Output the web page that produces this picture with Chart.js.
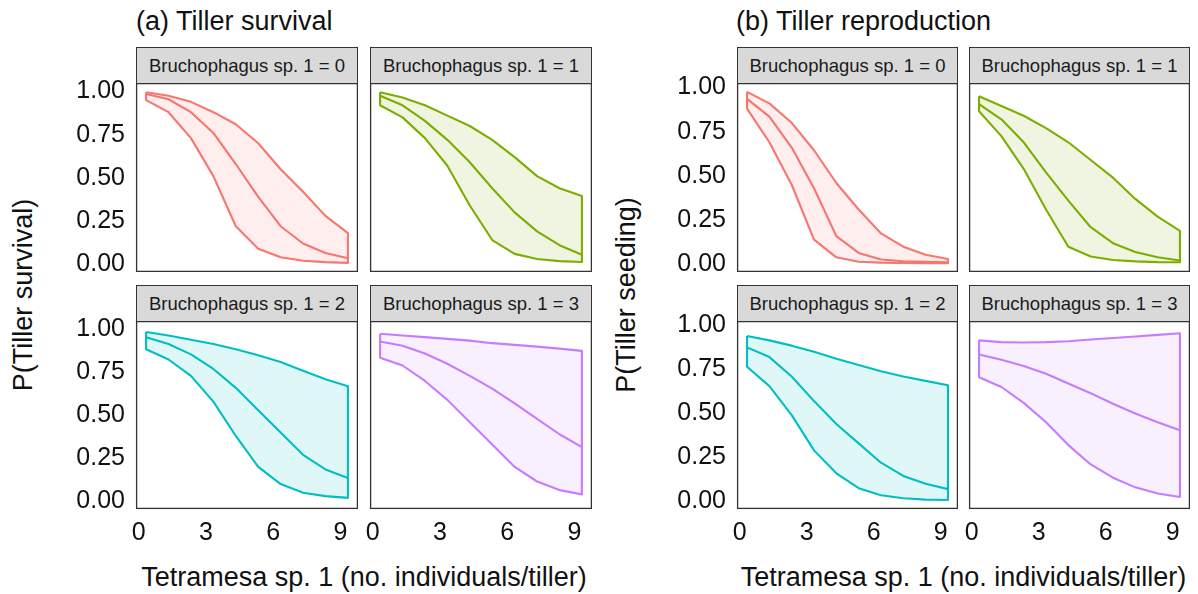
<!DOCTYPE html>
<html>
<head>
<meta charset="utf-8">
<script src="https://cdn.jsdelivr.net/npm/chart.js@4/dist/chart.umd.min.js"></script>
<style>
  html, body { margin: 0; padding: 0; background: #fff; }
  body { width: 1198px; height: 594px; position: relative; overflow: hidden;
         font-family: "Liberation Sans", Arial, Helvetica, sans-serif; color: #111; }
  canvas { position: absolute; }
  .strip { position: absolute; z-index: 2; box-sizing: border-box; background: #d9d9d9; border: 1px solid #333;
           display: flex; align-items: center; justify-content: center; font-size: 18.5px; color: #1a1a1a;
           white-space: nowrap; }
  .title { position: absolute; font-size: 27px; white-space: nowrap; line-height: 1; }
  .ytitle { position: absolute; font-size: 27px; white-space: nowrap; line-height: 1;
            transform: translate(-50%, -50%) rotate(-90deg); }
  .xtitle { position: absolute; font-size: 27px; white-space: nowrap; line-height: 1;
            transform: translate(-50%, -50%); }
</style>
</head>
<body>
<script>
// Tetramesa sp. 1 load along the x axis (individuals per tiller)
const X_VALUES = [0.33, 1.33, 2.33, 3.33, 4.33, 5.33, 6.33, 7.33, 8.33, 9.33];
const X_TICKS = [0, 3, 6, 9];
const Y_TICKS = [0, 0.25, 0.5, 0.75, 1];
const Y_TICK_LABELS = ['0.00', '0.25', '0.50', '0.75', '1.00'];

const FACET_LABELS = ['Bruchophagus sp. 1 = 0', 'Bruchophagus sp. 1 = 1',
                      'Bruchophagus sp. 1 = 2', 'Bruchophagus sp. 1 = 3'];
const FACET_COLORS = ['#F8766D', '#7CAE00', '#00BFC4', '#C77CFF'];

// (a) P(Tiller survival): upper bound, fitted mean, lower bound per Bruchophagus level
const survival0Upper = [0.995, 0.975, 0.94, 0.88, 0.81, 0.70, 0.55, 0.42, 0.28, 0.18];
const survival0Mean  = [0.985, 0.955, 0.88, 0.76, 0.58, 0.39, 0.22, 0.12, 0.065, 0.035];
const survival0Lower = [0.95, 0.88, 0.73, 0.51, 0.22, 0.09, 0.04, 0.02, 0.012, 0.008];

const survival1Upper = [0.995, 0.965, 0.92, 0.86, 0.80, 0.72, 0.62, 0.51, 0.44, 0.395];
const survival1Mean  = [0.975, 0.92, 0.83, 0.72, 0.59, 0.44, 0.30, 0.19, 0.11, 0.055];
const survival1Lower = [0.92, 0.85, 0.73, 0.57, 0.34, 0.14, 0.06, 0.03, 0.018, 0.013];

const survival2Upper = [0.985, 0.965, 0.94, 0.915, 0.885, 0.85, 0.81, 0.76, 0.71, 0.67];
const survival2Mean  = [0.955, 0.915, 0.855, 0.77, 0.66, 0.53, 0.40, 0.27, 0.185, 0.135];
const survival2Lower = [0.885, 0.825, 0.73, 0.58, 0.38, 0.20, 0.10, 0.05, 0.03, 0.02];

const survival3Upper = [0.975, 0.965, 0.955, 0.945, 0.935, 0.92, 0.91, 0.90, 0.888, 0.875];
const survival3Mean  = [0.93, 0.905, 0.86, 0.80, 0.73, 0.655, 0.57, 0.48, 0.39, 0.315];
const survival3Lower = [0.835, 0.79, 0.70, 0.59, 0.46, 0.33, 0.20, 0.115, 0.065, 0.04];

// (b) P(Tiller seeding)
const seeding0Upper = [0.975, 0.91, 0.80, 0.645, 0.46, 0.31, 0.175, 0.10, 0.055, 0.03];
const seeding0Mean  = [0.935, 0.835, 0.66, 0.43, 0.16, 0.065, 0.028, 0.018, 0.014, 0.012];
const seeding0Lower = [0.88, 0.69, 0.45, 0.14, 0.04, 0.015, 0.01, 0.008, 0.007, 0.007];

const seeding1Upper = [0.95, 0.895, 0.84, 0.77, 0.69, 0.59, 0.49, 0.37, 0.27, 0.19];
const seeding1Mean  = [0.905, 0.82, 0.69, 0.52, 0.36, 0.21, 0.12, 0.07, 0.04, 0.022];
const seeding1Lower = [0.865, 0.725, 0.54, 0.31, 0.10, 0.045, 0.025, 0.017, 0.013, 0.012];

const seeding2Upper = [0.94, 0.915, 0.885, 0.85, 0.81, 0.775, 0.74, 0.71, 0.685, 0.66];
const seeding2Mean  = [0.875, 0.82, 0.71, 0.57, 0.44, 0.33, 0.22, 0.145, 0.10, 0.07];
const seeding2Lower = [0.765, 0.655, 0.49, 0.29, 0.16, 0.075, 0.035, 0.018, 0.01, 0.008];

const seeding3Upper = [0.915, 0.905, 0.903, 0.905, 0.91, 0.92, 0.928, 0.937, 0.946, 0.955];
const seeding3Mean  = [0.835, 0.805, 0.77, 0.725, 0.67, 0.615, 0.555, 0.50, 0.45, 0.405];
const seeding3Lower = [0.705, 0.65, 0.56, 0.45, 0.32, 0.21, 0.135, 0.08, 0.045, 0.025];

const SURVIVAL = [
  [survival0Upper, survival0Mean, survival0Lower],
  [survival1Upper, survival1Mean, survival1Lower],
  [survival2Upper, survival2Mean, survival2Lower],
  [survival3Upper, survival3Mean, survival3Lower]
];
const SEEDING = [
  [seeding0Upper, seeding0Mean, seeding0Lower],
  [seeding1Upper, seeding1Mean, seeding1Lower],
  [seeding2Upper, seeding2Mean, seeding2Lower],
  [seeding3Upper, seeding3Mean, seeding3Lower]
];

// ---- layout of the two faceted figures ----
const FONT = '"Liberation Sans", Arial, Helvetica, sans-serif';
const TEXT_COLOR = '#111';
const TICK_SIZE = 25;
const Y_AXIS_W = 80;      // room for y tick labels on the left column
const SPACER_W = 12;      // empty y axis on the right column keeps the "0" label inside the canvas
const X_AXIS_H = 46;      // room for x tick labels on the bottom row
const TOP_M = 14;         // canvas headroom so the top tick label is not cut
const ROWS = [ { strip: 47, top: 83, h: 189 }, { strip: 285, top: 321, h: 188 } ];
const STRIP_H = 37;

const FIGURES = [
  { title: '(a) Tiller survival', ytitle: 'P(Tiller survival)', cols: [136, 370], w: 222,
    titleX: 136, ytitleX: 23, ymin: -0.045, ymax: 1.049, series: SURVIVAL },
  { title: '(b) Tiller reproduction', ytitle: 'P(Tiller seeding)', cols: [737, 969], w: 221,
    titleX: 736, ytitleX: 626, ymin: -0.043, ymax: 1.025, series: SEEDING }
];
const YTITLE_Y = 295;
const XMIN = -0.12, XMAX = 9.78;
const XTITLE = 'Tetramesa sp. 1 (no. individuals/tiller)';

function withAlpha(hex, a) {
  const n = parseInt(hex.slice(1), 16);
  return `rgba(${(n >> 16) & 255}, ${(n >> 8) & 255}, ${n & 255}, ${a})`;
}

// Scales keep a fixed size and do not push the plotting area in for label overhang
function fixScale(size, key) {
  return s => {
    s[key] = size;
    s.paddingTop = s.paddingBottom = s.paddingLeft = s.paddingRight = 0;
  };
}

// Panel border drawn round the plotting area
const panelFrame = {
  id: 'panelFrame',
  afterDraw(chart) {
    const { ctx, chartArea: a } = chart;
    ctx.save();
    ctx.strokeStyle = '#333';
    ctx.lineWidth = 1.3;
    ctx.strokeRect(a.left + 0.6, a.top + 0.6, a.right - a.left - 1.2, a.bottom - a.top - 1.2);
    ctx.restore();
  }
};

function addEl(cls, text, style) {
  const d = document.createElement('div');
  d.className = cls;
  d.textContent = text;
  Object.assign(d.style, style);
  document.body.appendChild(d);
  return d;
}

FIGURES.forEach(fig => {
  addEl('title', fig.title, { left: fig.titleX + 'px', top: '8px' });
  addEl('ytitle', fig.ytitle, { left: fig.ytitleX + 'px', top: YTITLE_Y + 'px' });
  const cx = (fig.cols[0] + fig.cols[1] + fig.w) / 2;
  addEl('xtitle', XTITLE, { left: cx + 'px', top: '577px' });

  fig.series.forEach((bands, k) => {
    const row = ROWS[Math.floor(k / 2)];
    const colIdx = k % 2;
    const left = fig.cols[colIdx];
    const showY = colIdx === 0;
    const showX = Math.floor(k / 2) === 1;
    const color = FACET_COLORS[k];
    const axL = showY ? Y_AXIS_W : SPACER_W;
    const axB = showX ? X_AXIS_H : 0;

    addEl('strip', FACET_LABELS[k], {
      left: left + 'px', top: row.strip + 'px', width: fig.w + 'px', height: STRIP_H + 'px'
    });

    const canvas = document.createElement('canvas');
    canvas.width = fig.w + axL;
    canvas.height = row.h + axB + TOP_M;
    canvas.style.left = (left - axL) + 'px';
    canvas.style.top = (row.top - TOP_M) + 'px';
    document.body.appendChild(canvas);

    const [upper, mean, lower] = bands;
    const ribbon = X_VALUES.map((x, i) => ({ x, y: upper[i] }));
    for (let i = X_VALUES.length - 1; i >= 0; i--) ribbon.push({ x: X_VALUES[i], y: lower[i] });
    ribbon.push({ x: X_VALUES[0], y: upper[0] });

    new Chart(canvas, {
      type: 'line',
      data: {
        datasets: [
          { data: ribbon, borderColor: color, backgroundColor: withAlpha(color, 0.12),
            fill: 'shape', borderWidth: 2.1, pointRadius: 0, tension: 0, borderJoinStyle: 'round' },
          { data: X_VALUES.map((x, i) => ({ x, y: mean[i] })), borderColor: color,
            fill: false, borderWidth: 2.1, pointRadius: 0, tension: 0, borderJoinStyle: 'round' }
        ]
      },
      options: {
        responsive: false,
        animation: false,
        events: [],
        layout: { padding: { top: TOP_M, left: 0, right: 0, bottom: 0 }, autoPadding: false },
        plugins: { legend: { display: false }, tooltip: { enabled: false } },
        scales: {
          x: {
            type: 'linear', min: XMIN, max: XMAX, display: showX,
            grid: { display: false, drawTicks: false }, border: { display: false },
            afterBuildTicks: s => { s.ticks = X_TICKS.map(v => ({ value: v })); },
            afterFit: fixScale(showX ? X_AXIS_H : 0, 'height'),
            ticks: { autoSkip: false, maxRotation: 0, padding: 9, color: TEXT_COLOR,
                     font: { family: FONT, size: TICK_SIZE }, callback: (v, i) => String(X_TICKS[i]) }
          },
          y: {
            type: 'linear', min: fig.ymin, max: fig.ymax, display: true,
            grid: { display: false, drawTicks: false }, border: { display: false },
            afterBuildTicks: s => { s.ticks = Y_TICKS.map(v => ({ value: v })); },
            afterFit: fixScale(axL, 'width'),
            ticks: { autoSkip: false, padding: 11, color: TEXT_COLOR,
                     font: { family: FONT, size: TICK_SIZE },
                     callback: (v, i) => showY ? Y_TICK_LABELS[i] : '' }
          }
        }
      },
      plugins: [panelFrame]
    });
  });
});
</script>
</body>
</html>
